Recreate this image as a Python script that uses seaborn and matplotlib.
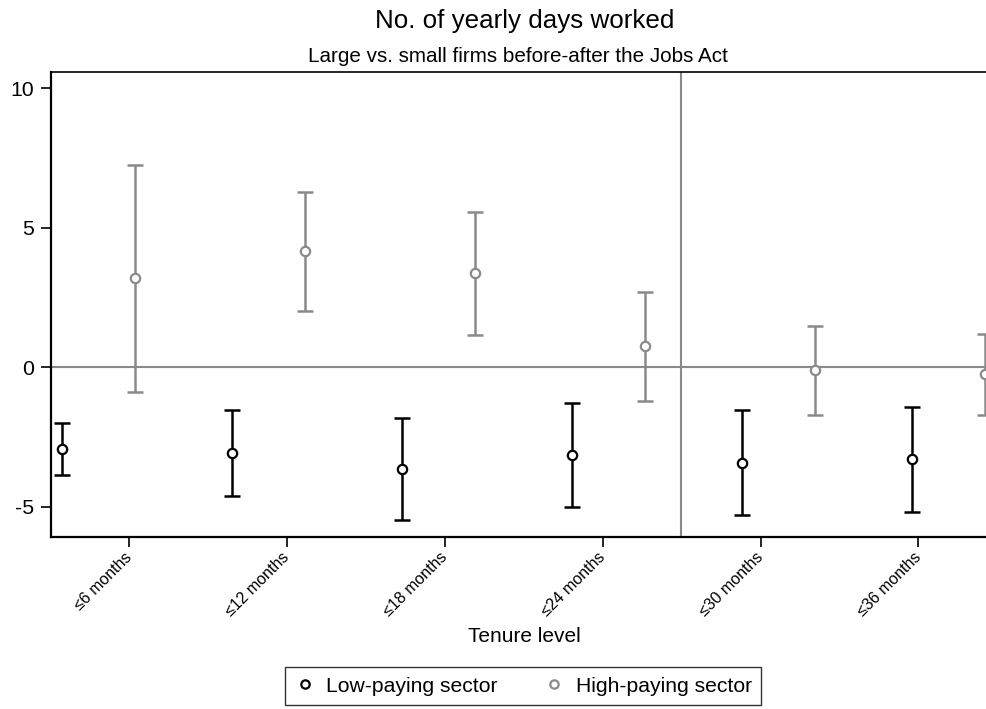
import numpy as np
import seaborn as sns
import matplotlib.pyplot as plt
from matplotlib.lines import Line2D


categories = ["≤6 months", "≤12 months", "≤18 months", "≤24 months", "≤30 months", "≤36 months"]

low_coef = [-2.93, -3.08, -3.67, -3.14, -3.42, -3.31]
low_lo = [-3.88, -4.63, -5.47, -5.00, -5.30, -5.21]
low_hi = [-1.99, -1.53, -1.84, -1.28, -1.52, -1.42]

high_coef = [3.19, 4.16, 3.36, 0.74, -0.12, -0.24]
high_lo = [-0.88, 2.00, 1.15, -1.20, -1.73, -1.73]
high_hi = [7.25, 6.29, 5.57, 2.68, 1.49, 1.20]

y_ticks = [-5, 0, 5, 10]


sns.set_theme(style="ticks")
plt.rcParams['font.family'] = ['Liberation Sans', 'DejaVu Sans']
plt.rcParams['text.color'] = 'black'
plt.rcParams['xtick.color'] = 'black'
plt.rcParams['ytick.color'] = 'black'
plt.rcParams['axes.labelcolor'] = 'black'

gray = "#8a8a8a"

# slot positions: low-paying at the slot, high-paying shifted right
slots = np.arange(len(categories))
low_x = slots
high_x = slots + 0.43
tick_x = slots * 0.9286 + 0.394
event_x = 3.641

fig = plt.figure(figsize=(9.86, 7.09), dpi=100)
ax = fig.add_axes([51 / 986, 1 - 537 / 709, 941 / 986, 465 / 709])

ax.axhline(0, color=gray, lw=1.5, zorder=1)
ax.axvline(event_x, color=gray, lw=1.5, zorder=1)

low_y = np.array(low_coef)
high_y = np.array(high_coef)
ax.errorbar(low_x, low_y, yerr=[low_y - np.array(low_lo), np.array(low_hi) - low_y],
            fmt="none", ecolor="black", elinewidth=1.8, capsize=6, capthick=1.8, zorder=2)
ax.errorbar(high_x, high_y, yerr=[high_y - np.array(high_lo), np.array(high_hi) - high_y],
            fmt="none", ecolor=gray, elinewidth=1.8, capsize=6, capthick=1.8, zorder=2)

sns.scatterplot(x=low_x, y=low_y, ax=ax, marker="o", s=45, facecolor="white",
                edgecolor="black", linewidth=1.6, zorder=3)
sns.scatterplot(x=high_x, y=high_y, ax=ax, marker="o", s=45, facecolor="white",
                edgecolor=gray, linewidth=1.6, zorder=3)

ax.set_xlim(-0.065, 5.47)
ax.set_ylim(-6.09, 10.58)
ax.set_yticks(y_ticks)
ax.set_yticklabels([str(t) for t in y_ticks], fontsize=15.3)
ax.set_xticks(tick_x)
ax.set_xticklabels(categories, rotation=45, ha="right", va="center",
                   rotation_mode="anchor", fontsize=11.5)
ax.tick_params(axis="both", direction="out", length=7, width=1.2, color="black", pad=5)
ax.tick_params(axis="x", pad=6)

for s in ax.spines.values():
    s.set_color("black")
    s.set_linewidth(1.6)
ax.spines["top"].set_linewidth(1.2)

fig.text(525 / 986, 1 - 21 / 709, "No. of yearly days worked", ha="center", va="center", fontsize=18.7)
fig.text(518 / 986, 1 - 57 / 709, "Large vs. small firms before-after the Jobs Act",
         ha="center", va="center", fontsize=14.9)
fig.text(524 / 986, 1 - 637 / 709, "Tenure level", ha="center", va="center", fontsize=15)

handles = [
    Line2D([], [], ls="none", marker="o", markersize=6, markerfacecolor="white",
           markeredgecolor="black", markeredgewidth=1.6),
    Line2D([], [], ls="none", marker="o", markersize=6, markerfacecolor="white",
           markeredgecolor=gray, markeredgewidth=1.6),
]
leg = fig.legend(handles, ["Low-paying sector", "High-paying sector"], ncol=2,
                 loc="center", bbox_to_anchor=(523 / 986, 1 - 686 / 709),
                 fontsize=15.2, frameon=True, fancybox=False, handlelength=1.0,
                 handletextpad=0.5, columnspacing=2.2, borderpad=0.45)
leg.get_frame().set_edgecolor("black")
leg.get_frame().set_linewidth(1.0)

fig.savefig("out.png", dpi=100)
